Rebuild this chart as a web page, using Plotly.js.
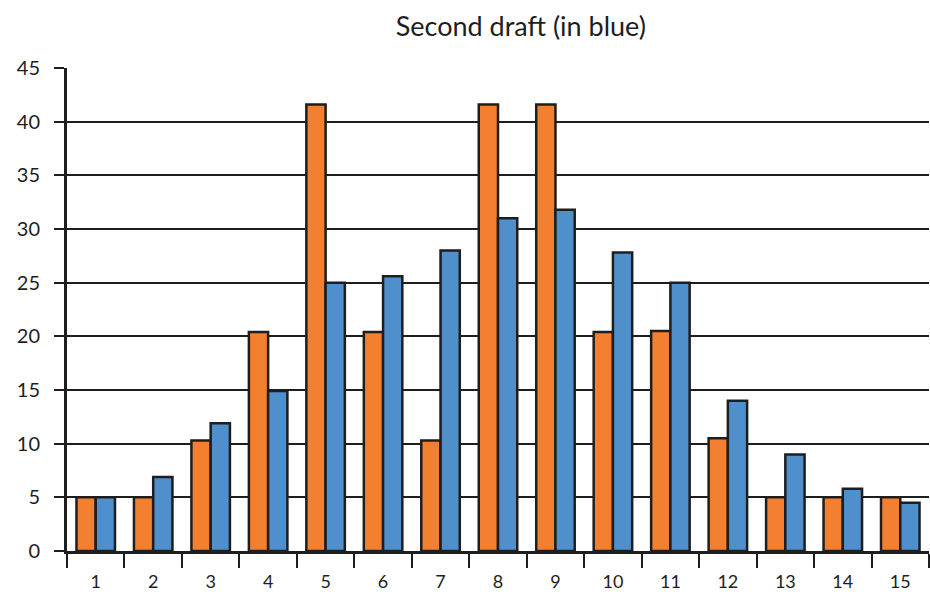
<!DOCTYPE html>
<html>
<head>
<meta charset="utf-8">
<script src="https://cdn.plot.ly/plotly-3.0.1.min.js"></script>
<style>html,body{margin:0;padding:0;background:#fff;}#chart{width:930px;height:596px;}</style>
</head>
<body>
<div id="chart"></div>
<script>
const categories = ["1","2","3","4","5","6","7","8","9","10","11","12","13","14","15"];
const firstDraft = [5, 5, 10.3, 20.4, 41.6, 20.4, 10.3, 41.6, 41.6, 20.4, 20.5, 10.5, 5, 5, 5];
const secondDraft = [5, 6.9, 11.9, 14.9, 25, 25.6, 28, 31, 31.8, 27.8, 25, 14, 9, 5.8, 4.5];
const yTicks = [0, 5, 10, 15, 20, 25, 30, 35, 40, 45];

const FONT = "Lato, 'DejaVu Sans', sans-serif";
const traces = [
  {type: "bar", x: categories, y: firstDraft, name: "First draft",
   marker: {color: "#F28030", line: {color: "#1e1e1e", width: 2.5}}},
  {type: "bar", x: categories, y: secondDraft, name: "Second draft",
   marker: {color: "#4F8FCC", line: {color: "#1e1e1e", width: 2.5}}}
];
const layout = {
  width: 930, height: 596,
  margin: {l: 67, r: 1, t: 68, b: 45},
  paper_bgcolor: "#fff", plot_bgcolor: "#fff",
  showlegend: false,
  barmode: "group", bargap: 0.33, bargroupgap: 0,
  font: {family: FONT, color: "#1e1e1e", size: 18},
  title: {text: "Second draft (in blue)", x: 0.56, xref: "container", y: 0.955, yanchor: "middle",
          font: {family: FONT, size: 27, color: "#1e1e1e"}},
  xaxis: {type: "category", tickson: "boundaries", ticks: "outside", ticklen: 14, tickwidth: 2,
          tickcolor: "#1e1e1e", showline: true, linecolor: "#1e1e1e", linewidth: 3,
          showgrid: false, tickfont: {size: 18}, range: [-0.5, 14.5], ticklabelstandoff: 12},
  yaxis: {range: [0, 45], tickvals: yTicks, ticks: "outside", ticklen: 10, tickwidth: 2,
          tickcolor: "#1e1e1e", showline: true, linecolor: "#1e1e1e", linewidth: 3,
          gridcolor: "#1e1e1e", gridwidth: 2, zeroline: false, tickfont: {size: 20},
          ticklabelstandoff: 10}
};
Plotly.newPlot("chart", traces, layout, {displayModeBar: false, staticPlot: true});
</script>
</body>
</html>
